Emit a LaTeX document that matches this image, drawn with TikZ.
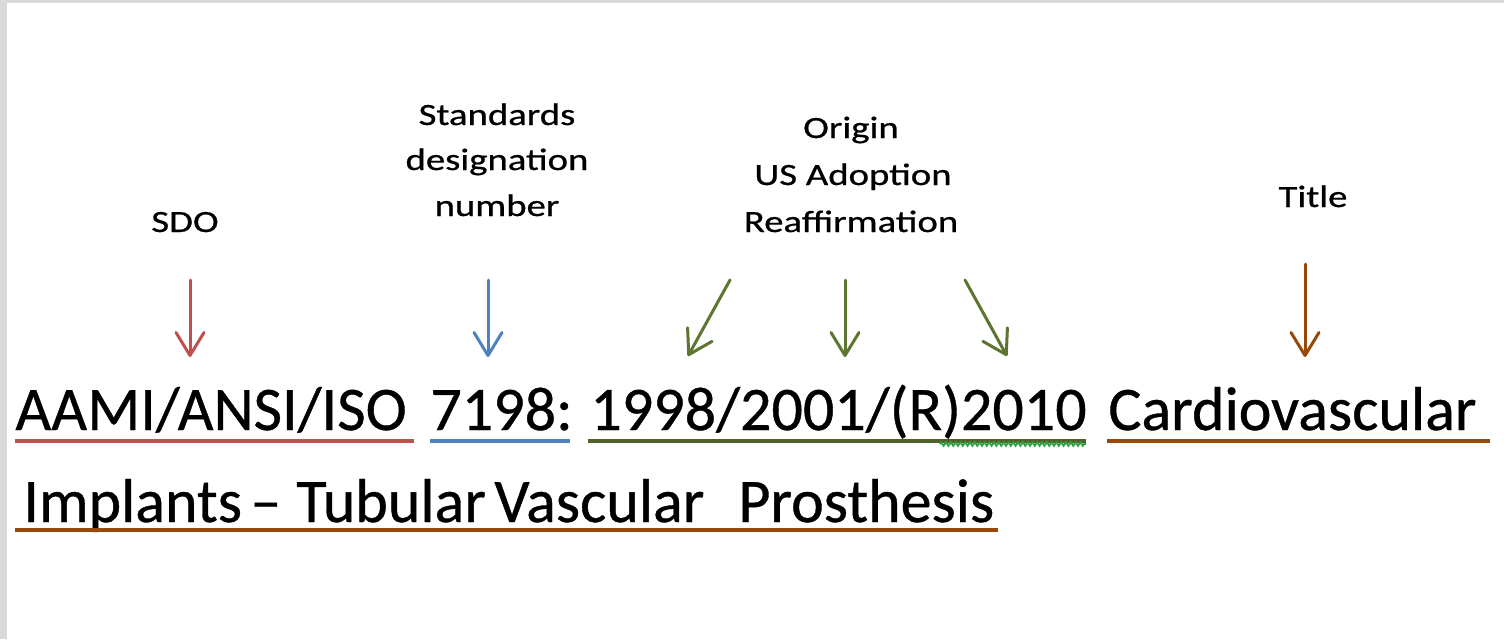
\documentclass[tikz,border=0pt]{standalone}
\usepackage{fontspec}
\setmainfont{Carlito}[FakeBold=0]
\newfontfamily\heavyfont{Carlito}[AutoFakeBold=0.6]
\usetikzlibrary{arrows.meta,calc,decorations.pathmorphing}
\definecolor{cgray}{HTML}{D9D9D9}
\definecolor{cred}{HTML}{C0504D}
\definecolor{cblue}{HTML}{4F81BD}
\definecolor{cgreen}{HTML}{4F6228}
\definecolor{cgreenarr}{HTML}{5E7532}
\definecolor{cbrown}{HTML}{984807}
\definecolor{csquig}{HTML}{2EA043}
\newcommand\sx[1]{\scalebox{1.25}[1]{#1}}
\tikzset{
  maintext/.style={font=\heavyfont\bfseries\fontsize{31pt}{37pt}\selectfont, inner sep=0pt, anchor=base west},
  lbl/.style={font=\heavyfont\bfseries\fontsize{15.5pt}{20pt}\selectfont, inner sep=0pt, anchor=base},
  arr/.style={line width=1.5pt, line cap=round,
    -{Straight Barb[length=11.5pt,width=14pt,line join=round,line cap=round]}},
  ul/.style={line width=1.9pt}
}
\begin{document}
\begin{tikzpicture}[x=0.5pt,y=-0.5pt]
\useasboundingbox (0,0) rectangle (1504,639);
\fill[white] (0,0) rectangle (1504,639);
\fill[cgray] (0,0) rectangle (1504,3);
\fill[cgray] (0,0) rectangle (7,639);

% labels
\node[lbl] (sdo) at (185,232) {\sx{SDO}};
\node[lbl] (std1) at (497,125) {\sx{Standards}};
\node[lbl] (std2) at (497,170) {\sx{designation}};
\node[lbl] (std3) at (497,216) {\sx{number}};
\node[lbl] (org1) at (851,138) {\sx{Origin}};
\node[lbl] (org2) at (853,185) {\sx{US Adoption}};
\node[lbl] (org3) at (851,232) {\sx{Reaffirmation}};
\node[lbl] (ttl) at (1313,207) {\sx{Title}};

% main text line 1
\node[maintext] (w1) at (15,430) {AAMI/ANSI/ISO};
\node[maintext] (w2) at (430,430) {7198:};
\node[maintext] (w3) at (590,430) {1998/2001/(R)2010};
\node[maintext] (w4) at (1108,430) {Cardiovascular};
% main text line 2
\node[maintext] (v1) at (23,522) {Implants};
\node[maintext] (v2) at (250,522) {–};
\node[maintext] (v3) at (296,522) {Tubular};
\node[maintext] (v4) at (494,522) {Vascular};
\node[maintext] (v5) at (738,522) {Prosthesis};

% underlines
\draw[ul,cred] (15,441) -- (414,441);
\draw[ul,cblue] (430,441) -- (570,441);
\draw[ul,cgreen] (588,441) -- (1086,441);
\draw[csquig,line width=0.9pt,decorate,decoration={zigzag,amplitude=0.9pt,segment length=2.4pt}] (940,444) -- (1086,444);
\draw[ul,cbrown] (1107,441) -- (1490,441);
\draw[ul,cbrown] (15,530) -- (998,530);

% arrows
\coordinate (a1s) at (190,280); \coordinate (a1e) at (190,357);
\coordinate (a2s) at (488,280); \coordinate (a2e) at (488,357);
\coordinate (a3s) at (730,280); \coordinate (a3e) at (688,356);
\coordinate (a4s) at (845,280); \coordinate (a4e) at (845,357);
\coordinate (a5s) at (965,280); \coordinate (a5e) at (1007,356);
\coordinate (a6s) at (1305,264); \coordinate (a6e) at (1305,357);
\draw[arr,cred] (a1s) -- (a1e);
\draw[arr,cblue] (a2s) -- (a2e);
\draw[arr,cgreenarr] (a3s) -- (a3e);
\draw[arr,cgreenarr] (a4s) -- (a4e);
\draw[arr,cgreenarr] (a5s) -- (a5e);
\draw[arr,cbrown] (a6s) -- (a6e);
\end{tikzpicture}
\end{document}
